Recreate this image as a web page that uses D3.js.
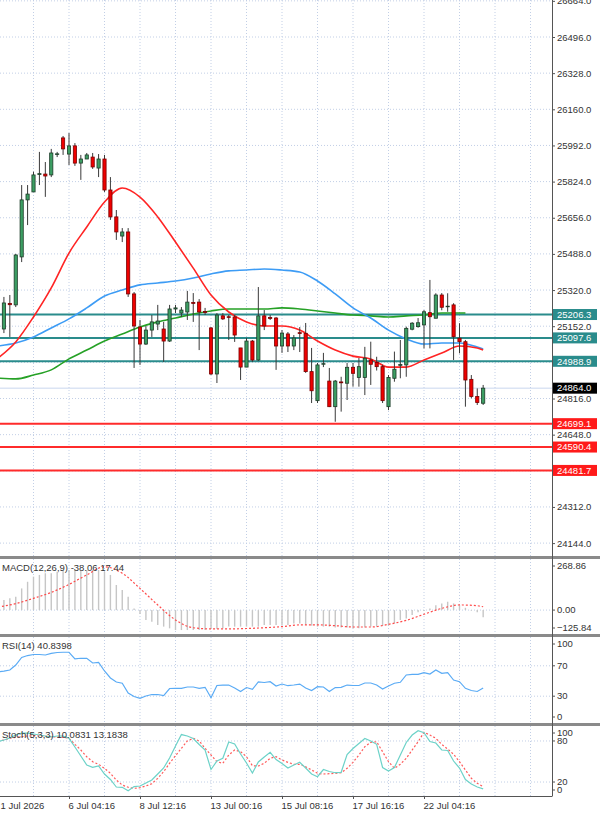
<!DOCTYPE html>
<html lang="en">
<head>
    <meta charset="UTF-8">
    <title>Price chart with MACD, RSI and Stochastic</title>
    <style>
        html, body {
            margin: 0;
            padding: 0;
            background-color: #fff;
        }
        svg {
            display: block;
            font-family: 'Liberation Sans', Arial, sans-serif;
        }
    </style>
</head>
<body>
    <div id="chart"></div>
    <script src="https://d3js.org/d3.v7.min.js"></script>
    <script>
        // CANDLES (one per bar, oldest first)
        const open = [25144,25139,25258,25251,25474,25739,25776,25857,25859,25855,
            25951,26027,25952,25990,25910,25929,25938,25887,25929,25785,
            25660,25571,25590,25302,25148,25069,25134,25162,25139,25083,
            25232,25213,25218,25262,25264,25220,25144,24930,25200,25196,
            25195,25051,24962,25083,24995,25200,25192,25190,25060,25116,
            25060,25122,25119,24941,24806,24976,24897,24778,24893,24887,
            24961,24914,24914,24995,24983,24964,24778,24910,24970,24972,
            25138,25150,25158,25215,25189,25297,25243,25251,25096,25080,
            24905,24825,24794];
        const high = [25251,25288,25297,25488,25808,25808,25870,25962,25915,25976,
            25962,26036,26050,26003,25948,25957,25957,25952,25948,25845,
            25692,25608,25608,25311,25181,25153,25204,25251,25172,25251,
            25251,25241,25316,25306,25278,25237,25148,25213,25213,25204,
            25204,25051,25097,25088,25334,25227,25204,25195,25134,25125,
            25111,25148,25167,25051,24981,25028,24958,24902,24917,24981,
            24981,25004,25056,25080,25010,24973,24925,25034,25088,25150,
            25171,25190,25227,25367,25305,25306,25305,25259,25166,25088,
            24925,24863,24879];
        const low = [25111,25120,25102,25241,25450,25622,25776,25808,25753,25845,
            25938,25948,25901,25897,25832,25929,25883,25845,25776,25646,
            25553,25543,25288,24958,24972,25065,25102,25134,24986,25079,
            25213,25195,25181,25172,25041,25204,24925,24888,25181,25088,
            25079,24902,24962,24986,24990,25134,25181,24949,25028,25032,
            25041,25032,24935,24795,24795,24962,24776,24708,24755,24809,
            24871,24871,24832,24879,24946,24795,24762,24894,24910,24917,
            25133,25145,25049,25049,25189,25226,25219,24995,25026,24778,
            24817,24786,24786];
        const close = [25213,25260,25252,25483,25739,25766,25855,25861,25850,25957,
            25953,25976,25990,25910,25929,25948,25892,25929,25785,25660,
            25590,25590,25302,25153,25069,25134,25172,25176,25083,25232,
            25237,25227,25264,25258,25218,25216,24930,25204,25186,25193,
            25111,24962,25083,24995,25200,25153,25188,25060,25120,25060,
            25097,25118,24941,24852,24972,24978,24778,24897,24889,24961,
            24933,24964,25003,24975,24964,24806,24914,24952,24974,25142,
            25166,25168,25219,25196,25297,25240,25245,25103,25080,24902,
            24825,24797,24864];

        // MOVING AVERAGES, read every third bar
        const maIdx = [0,3,6,9,12,15,18,21,24,27,30,33,36,39,42,45,48,51,54,57,60,63,66,69,72,75,78,81,82];
        const maFast = [25004,25079,25195,25330,25492,25613,25729,25794,25752,25660,25543,25422,25297,25218,
            25172,25153,25153,25134,25083,25041,25013,25000,24962,24962,24995,25027,25060,25051,25041];
        const maMid = [25060,25074,25102,25144,25186,25237,25292,25320,25344,25353,25362,25376,25395,25409,
            25413,25418,25413,25404,25362,25302,25237,25190,25134,25093,25069,25074,25074,25055,25046];
        const slowIdx = [0,3,6,9,12,15,18,21,24,27,30,33,36,39,42,45,48,51,54,57,60,63,66,69,72,75,78,79];
        const maSlow = [24911,24907,24925,24949,25000,25041,25083,25116,25148,25172,25190,25209,25223,25232,
            25232,25232,25237,25232,25223,25213,25204,25200,25195,25200,25204,25213,25213,25213];

        // LEVELS
        const resistance = [25206.3, 25097.6, 24988.9];
        const support = [24699.1, 24590.4, 24481.7];
        const lastPrice = 24864.0;
        const priceTicks = d3.range(24144, 26665, 168);

        // MACD(12,26,9)
        const macdHist = [45,53,62,70,114,149,176,185,194,194,
            202,211,211,211,211,211,211,211,202,185,
            132,106,70,9,-20,-52,-61,-78,-87,-96,
            -105,-105,-105,-105,-105,-105,-100,-100,-96,-87,
            -87,-87,-87,-87,-87,-78,-78,-78,-78,-78,
            -70,-70,-78,-82,-87,-87,-87,-92,-92,-92,
            -96,-96,-92,-87,-87,-82,-82,-70,-52,-44,
            -26,-12,-5,9,26,35,44,35,26,12,
            -3,-12,-38.06];
        const macdSignal = [16,34,62,93,135,185,228,194,114,27,-52,-93,-99,-99,-97,-93,-87,-78,-78,-82,
            -89,-89,-75,-54,-22,9,27,23,17.44];
        const macdLabels = [268.86, 0.00, -125.84];

        // RSI(14)
        const rsi = [61.8,63,64.5,71,81,83.5,84.9,84.9,84.2,86.4,
            87.5,87.8,87.8,79,79.9,79.9,73.7,74.6,63.2,54,
            48.7,47,34.2,29.6,27.2,30.3,32.2,32.2,30.9,40.1,
            40.4,40.4,42.1,42.1,40.4,41.7,28,44.1,44.7,44.7,
            40.8,36.2,41.4,39.1,48.7,48,49.1,43.4,46,43.8,
            44.7,46,40.8,37.5,42.5,42.1,36.2,41.4,41.7,44.7,
            44.1,44.1,47.4,47.4,44.7,39.5,43.4,47,48.3,57.9,
            58.6,58.8,60.9,59.2,64.5,60.1,60.9,51.3,49.1,40.4,
            37.5,36.2,40.84];

        // STOCHASTIC(5,3,3)
        const stochMain = [78.9,81.4,84.3,88.7,91.6,91.6,90.2,88.7,87.3,85.8,
            87.3,87.3,83.9,71.2,58,44.9,41.5,43.4,31.7,23.7,
            12.7,12.3,7.3,13.4,14.2,18.6,22.9,31.7,40.5,55.1,
            72.6,89.4,87.3,83.6,74.8,66.8,38.3,50.7,54.7,78.5,
            75.6,60.9,47.8,33.2,49.3,56.6,63.4,52.9,47.1,40.5,
            44.9,48.8,40.5,31.7,27.8,38.3,35.4,33.6,34.2,60.2,
            69,76.3,83.6,79.9,75.1,41.2,36.1,41.2,59.5,77.8,
            88.7,95,92.1,79.2,77,66.8,66.1,50.7,40.5,23.7,
            17.1,12.7,10.08];
        const stochSignal = [80,81.4,83.9,85.4,86.2,87.3,87.7,87.7,87.3,86.2,
            85.8,85.4,83.9,75.1,66.8,57,49.7,45.9,40,32.7,
            22.9,15.6,12.3,10.8,11.7,14.2,17.5,25.4,35.1,47.4,
            58.5,69.3,80,83.9,80,69.3,59.5,49.7,47.4,59.5,
            66.8,64.3,57,43.8,43.4,47.4,54.7,57,52.2,48.8,
            45.9,45.9,42.4,37.6,32.7,31.7,32.2,32.7,33.6,40,
            48.8,59.5,71.6,78,78.9,64.3,49.7,40,45.9,54.7,
            66.8,78.9,92.7,88.7,83.9,75.1,68.3,60.5,49.7,37.6,
            25.4,18.1,13.18];

        // X AXIS LABELS (every 12 bars)
        const dateTicks = [0, 12, 24, 36, 48, 60, 72];
        const dateLabels = ["1 Jul 2026", "6 Jul 04:16", "8 Jul 12:16", "13 Jul 00:16", "15 Jul 08:16", "17 Jul 16:16", "22 Jul 04:16"];

        const width = 600, height = 815, plotRight = 552;
        const panels = {
            price: {top: 0, bottom: 556},
            macd: {top: 559, bottom: 634},
            rsi: {top: 637, bottom: 723},
            stoch: {top: 726, bottom: 796}
        };
        const gridColor = "#c2cfe6";
        const textColor = "#333";

        const svg = d3.select("#chart")
            .append("svg")
            .attr("width", width)
            .attr("height", height);

        // SCALES
        const x = d3.scaleLinear().domain([0, 12]).range([-2, 69]);
        const yPrice = d3.scaleLinear().domain([24144, 26496]).range([543.1, 37]);
        const yMacd = d3.scaleLinear().domain([-125.84, 268.86]).range([634, 559]);
        const yRsi = d3.scaleLinear().domain([0, 100]).range([719, 643]);
        const yStoch = d3.scaleLinear().domain([0, 100]).range([795.7, 727.3]);

        // CLIP EACH PANEL
        const defs = svg.append("defs");
        Object.entries(panels).forEach(([k, p]) => {
            defs.append("clipPath").attr("id", "clip-" + k)
                .append("rect")
                .attr("x", 0).attr("y", p.top)
                .attr("width", plotRight).attr("height", p.bottom - p.top);
        });
        const layer = (k) => svg.append("g").attr("clip-path", `url(#clip-${k})`);

        // VERTICAL GRID (every 6 bars) IN ALL PANELS
        const gridIdx = d3.range(0, 96, 6);
        Object.keys(panels).forEach(k => {
            const p = panels[k];
            layer(k).selectAll("line")
                .data(gridIdx).enter()
                .append("line")
                .attr("x1", d => x(d)).attr("x2", d => x(d))
                .attr("y1", p.top).attr("y2", p.bottom)
                .attr("stroke", gridColor)
                .attr("stroke-dasharray", "1,2");
        });

        // ---------- PRICE PANEL ----------
        const pg = layer("price");
        pg.selectAll("line.hgrid")
            .data(priceTicks).enter()
            .append("line")
            .attr("class", "hgrid")
            .attr("x1", 0).attr("x2", plotRight)
            .attr("y1", d => yPrice(d)).attr("y2", d => yPrice(d))
            .attr("stroke", gridColor)
            .attr("stroke-dasharray", "1,2");

        // last price line
        pg.append("line")
            .attr("x1", 0).attr("x2", plotRight)
            .attr("y1", yPrice(lastPrice)).attr("y2", yPrice(lastPrice))
            .attr("stroke", "#c9d7ee");

        // level lines
        pg.selectAll("line.res")
            .data(resistance).enter()
            .append("line")
            .attr("x1", 0).attr("x2", plotRight)
            .attr("y1", d => yPrice(d)).attr("y2", d => yPrice(d))
            .attr("stroke", "#2a8c8c")
            .attr("stroke-width", 2);
        pg.selectAll("line.sup")
            .data(support).enter()
            .append("line")
            .attr("x1", 0).attr("x2", plotRight)
            .attr("y1", d => yPrice(d)).attr("y2", d => yPrice(d))
            .attr("stroke", "#ff2b2b")
            .attr("stroke-width", 2);

        // moving averages
        const maLine = (idx) => d3.line()
            .x((d, k) => x(idx[k]))
            .y(d => yPrice(d))
            .curve(d3.curveMonotoneX);
        pg.append("path").datum(maSlow)
            .attr("d", maLine(slowIdx))
            .attr("fill", "none").attr("stroke", "#26a126").attr("stroke-width", 1.6);
        pg.append("path").datum(maMid)
            .attr("d", maLine(maIdx))
            .attr("fill", "none").attr("stroke", "#3d9cf5").attr("stroke-width", 1.6);
        pg.append("path").datum(maFast)
            .attr("d", maLine(maIdx))
            .attr("fill", "none").attr("stroke", "#ff2424").attr("stroke-width", 1.6);

        // candles
        const bars = pg.selectAll("g.bar")
            .data(close.map((c, i) => i)).enter()
            .append("g").attr("class", "bar");
        bars.append("line")
            .attr("x1", i => x(i)).attr("x2", i => x(i))
            .attr("y1", i => yPrice(high[i])).attr("y2", i => yPrice(low[i]))
            .attr("stroke", "#3a3a3a");
        bars.append("rect")
            .attr("x", i => x(i) - 1.6)
            .attr("width", 3.2)
            .attr("y", i => yPrice(Math.max(open[i], close[i])))
            .attr("height", i => Math.max(0.6, Math.abs(yPrice(open[i]) - yPrice(close[i]))))
            .attr("fill", i => close[i] >= open[i] ? "#3c9e63" : "#ee0000")
            .attr("stroke", i => close[i] >= open[i] ? "#1d3b28" : "#7a0000")
            .attr("stroke-width", 0.8);

        // ---------- MACD PANEL ----------
        const mg = layer("macd");
        mg.append("line")
            .attr("x1", 0).attr("x2", plotRight)
            .attr("y1", yMacd(0)).attr("y2", yMacd(0))
            .attr("stroke", gridColor).attr("stroke-dasharray", "1,2");
        mg.selectAll("line.hist")
            .data(macdHist).enter()
            .append("line")
            .attr("x1", (d, i) => x(i)).attr("x2", (d, i) => x(i))
            .attr("y1", yMacd(0)).attr("y2", d => yMacd(d))
            .attr("stroke", "#c6c6c6").attr("stroke-width", 1.4);
        mg.append("path").datum(macdSignal)
            .attr("d", d3.line().x((d, k) => x(maIdx[k])).y(d => yMacd(d)).curve(d3.curveMonotoneX))
            .attr("fill", "none").attr("stroke", "#ff4a4a")
            .attr("stroke-width", 1.2).attr("stroke-dasharray", "2,2");

        // ---------- RSI PANEL ----------
        const rg = layer("rsi");
        rg.selectAll("line.lvl")
            .data([70, 30]).enter()
            .append("line")
            .attr("x1", 0).attr("x2", plotRight)
            .attr("y1", d => yRsi(d)).attr("y2", d => yRsi(d))
            .attr("stroke", gridColor).attr("stroke-dasharray", "1,2");
        rg.append("path").datum(rsi)
            .attr("d", d3.line().x((d, i) => x(i)).y(d => yRsi(d)))
            .attr("fill", "none").attr("stroke", "#5aabf5").attr("stroke-width", 1.2);

        // ---------- STOCH PANEL ----------
        const sg = layer("stoch");
        sg.selectAll("line.lvl")
            .data([80, 20]).enter()
            .append("line")
            .attr("x1", 0).attr("x2", plotRight)
            .attr("y1", d => yStoch(d)).attr("y2", d => yStoch(d))
            .attr("stroke", gridColor).attr("stroke-dasharray", "1,2");
        sg.append("path").datum(stochSignal)
            .attr("d", d3.line().x((d, i) => x(i)).y(d => yStoch(d)))
            .attr("fill", "none").attr("stroke", "#ff5a5a")
            .attr("stroke-width", 1.2).attr("stroke-dasharray", "2,2");
        sg.append("path").datum(stochMain)
            .attr("d", d3.line().x((d, i) => x(i)).y(d => yStoch(d)))
            .attr("fill", "none").attr("stroke", "#6cd2c8").attr("stroke-width", 1.2);

        // ---------- PANEL TITLES ----------
        const titles = [
            {text: "MACD(12,26,9) -38.06 17.44", y: 571},
            {text: "RSI(14) 40.8398", y: 649},
            {text: "Stoch(5,3,3) 10.0831 13.1838", y: 738}
        ];
        svg.selectAll("text.title")
            .data(titles).enter()
            .append("text")
            .attr("x", 2).attr("y", d => d.y)
            .attr("font-size", 9.5)
            .attr("fill", textColor)
            .text(d => d.text);

        // ---------- SEPARATORS AND FRAME ----------
        [[556, 559], [634, 637], [723, 726]].forEach(([a, b]) => {
            svg.append("rect")
                .attr("x", 0).attr("y", a)
                .attr("width", width).attr("height", b - a)
                .attr("fill", "#8a8a8a");
        });
        svg.append("line")
            .attr("x1", plotRight + 0.5).attr("x2", plotRight + 0.5)
            .attr("y1", 0).attr("y2", 796)
            .attr("stroke", "#555");
        svg.append("line")
            .attr("x1", 0).attr("x2", plotRight + 0.5)
            .attr("y1", 796.5).attr("y2", 796.5)
            .attr("stroke", "#555");

        // ---------- PRICE AXIS ----------
        const levelVals = resistance.concat(support, [lastPrice]);
        const yAxis = d3.axisRight(yPrice)
            .tickValues(priceTicks)
            .tickSize(3)
            .tickPadding(2)
            .tickFormat(d3.format(".1f"));
        const yAxisG = svg.append("g")
            .attr("transform", `translate(${plotRight}, 0)`)
            .call(yAxis);
        yAxisG.select(".domain").remove();
        yAxisG.selectAll("line").attr("stroke", "#555");
        yAxisG.selectAll("text")
            .attr("font-size", 9.5)
            .attr("font-family", "'Liberation Sans', Arial, sans-serif")
            .attr("fill", textColor)
            .style("display", d => levelVals.some(v => Math.abs(yPrice(v) - yPrice(d)) < 8) ? "none" : null);

        // level boxes
        const boxes = resistance.map(v => ({v, fill: "#2a8c8c"}))
            .concat(support.map(v => ({v, fill: "#ff1a1a"})))
            .concat([{v: lastPrice, fill: "#000"}]);
        const boxG = svg.selectAll("g.box")
            .data(boxes).enter()
            .append("g").attr("class", "box");
        boxG.append("rect")
            .attr("x", 553).attr("y", d => yPrice(d.v) - 5.5)
            .attr("width", 44).attr("height", 11)
            .attr("fill", d => d.fill);
        boxG.append("text")
            .attr("x", 557).attr("y", d => yPrice(d.v))
            .attr("dy", "0.34em")
            .attr("font-size", 9.5)
            .attr("fill", "#fff")
            .text(d => d.v.toFixed(1));

        // ---------- INDICATOR AXES ----------
        const subLabels = [
            {scale: yMacd, p: panels.macd, vals: macdLabels, fmt: d3.format(".2f")},
            {scale: yRsi, p: panels.rsi, vals: [100, 70, 30, 0], fmt: d => d},
            {scale: yStoch, p: panels.stoch, vals: [100, 80, 20, 0], fmt: d => d}
        ];
        subLabels.forEach(s => {
            const g = svg.append("g");
            s.vals.forEach(v => {
                const yy = Math.max(s.p.top + 7, Math.min(s.p.bottom - 6, s.scale(v)));
                g.append("line")
                    .attr("x1", plotRight).attr("x2", plotRight + 3)
                    .attr("y1", yy).attr("y2", yy)
                    .attr("stroke", "#555");
                g.append("text")
                    .attr("x", 557).attr("y", yy)
                    .attr("dy", "0.34em")
                    .attr("font-size", 9.5)
                    .attr("fill", textColor)
                    .text(s.fmt(v));
            });
        });

        // ---------- DATE AXIS ----------
        const xAxis = d3.axisBottom(x)
            .tickValues(dateTicks)
            .tickSize(3)
            .tickPadding(3)
            .tickFormat((d, i) => dateLabels[i]);
        const xAxisG = svg.append("g")
            .attr("transform", "translate(0, 796)")
            .call(xAxis);
        xAxisG.select(".domain").remove();
        xAxisG.selectAll("line").attr("stroke", "#555");
        xAxisG.selectAll("text")
            .attr("text-anchor", "start")
            .attr("dx", (d, i) => i === 0 ? 2 : -1)
            .attr("font-size", 9.5)
            .attr("font-family", "'Liberation Sans', Arial, sans-serif")
            .attr("fill", textColor);
    </script>
</body>
</html>
